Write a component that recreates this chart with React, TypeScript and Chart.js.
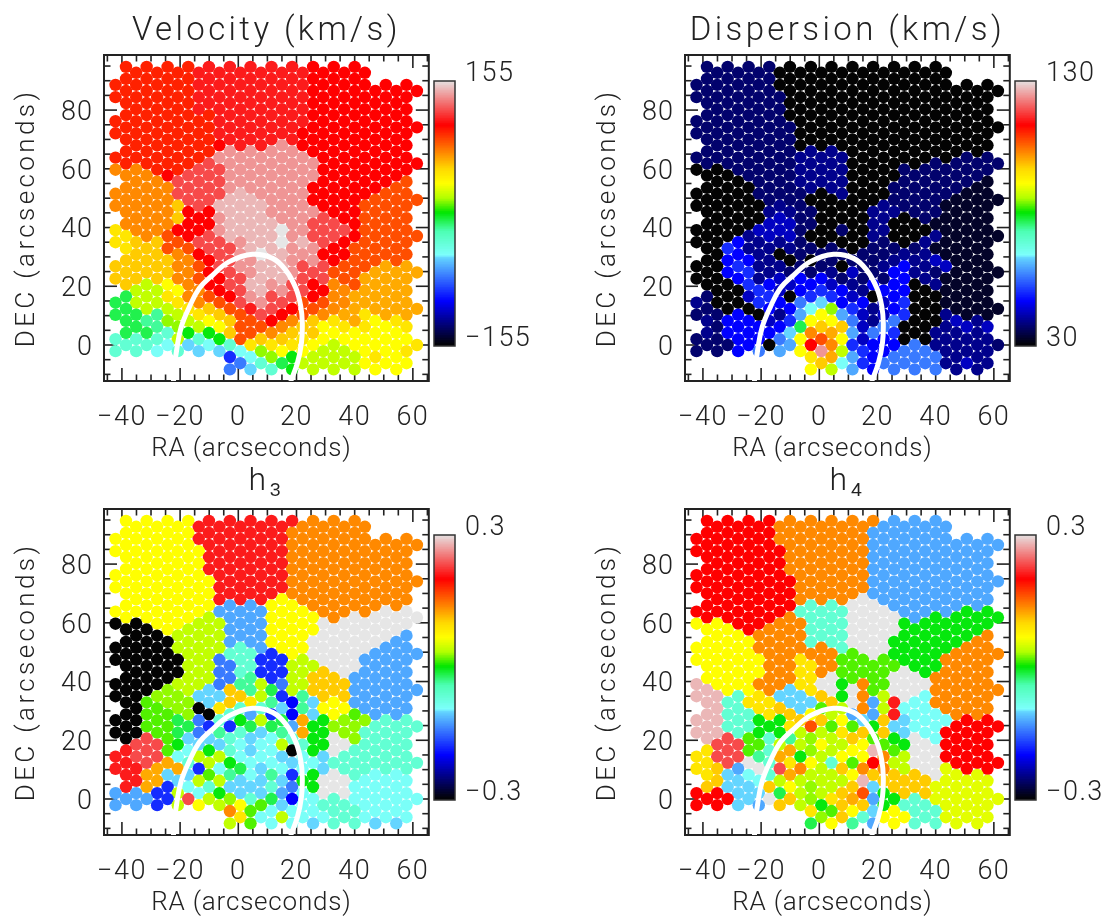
import React, { useEffect, useRef } from "react";
import { Chart, registerables } from "chart.js";

Chart.register(...registerables);

const FONT = "Roboto";
const raColumns = [-42.2, -38.6, -35.1, -31.5, -27.9, -24.3, -20.8, -17.2, -13.6, -10.1, -6.5, -2.9, 0.7, 4.2, 7.8, 11.4, 15.0, 18.5, 22.1, 25.7, 29.2, 32.8, 36.4, 40.0, 43.5, 47.1, 50.7, 54.3, 57.8, 61.4];
const decRows = [94.7, 92.7, 90.6, 88.6, 86.5, 84.4, 82.4, 80.3, 78.3, 76.2, 74.1, 72.1, 70.0, 68.0, 65.9, 63.8, 61.8, 59.7, 57.7, 55.6, 53.5, 51.5, 49.4, 47.4, 45.3, 43.2, 41.2, 39.1, 37.1, 35.0, 32.9, 30.9, 28.8, 26.8, 24.7, 22.6, 20.6, 18.5, 16.5, 14.4, 12.3, 10.3, 8.2, 6.2, 4.1, 2.0, 0.0, -2.1, -4.1, -6.2, -8.3];

const xMajor = [-40, -20, 0, 20, 40, 60];
const xMinor = [-45, -35, -30, -25, -15, -10, -5, 5, 10, 15, 25, 30, 35, 45, 50, 55, 65];
const yMajor = [0, 20, 40, 60, 80];
const yMinor = [-10, -5, 5, 10, 15, 25, 30, 35, 45, 50, 55, 65, 70, 75, 85, 90, 95];

const arcRA = [-22.3, -21.9, -21.1, -19.6, -16.8, -13.4, -8.8, -3.1, 4.9, 11.8, 16.3, 19.8, 21.5, 22.0, 21.7, 20.3, 18.0];
const arcDEC = [-12.4, -7.4, -1.1, 6.2, 13.0, 19.3, 23.8, 28.4, 30.9, 29.5, 25.5, 19.3, 13.0, 7.4, 0.6, -6.2, -12.4];

// fraction of the colour range for each symbol used in the binned maps
const levelOf: Record<string, number> = {
  k: 0, K: 0.025, n: 0.07, m: 0.09, b: 0.125, B: 0.166, c: 0.2, l: 0.26, s: 0.295, u: 0.33, i: 0.345, t: 0.39, q: 0.44, e: 0.47, g: 0.495,
  v: 0.525, w: 0.545, x: 0.565, X: 0.59, y: 0.61, Y: 0.645, a: 0.675, A: 0.7, o: 0.725, O: 0.77, p: 0.805, r: 0.83, d: 0.85, f: 0.885, z: 0.94, P: 0.965, G: 1,
};

const colorStops: [number, number, number, number][] = [
  [0, 3, 3, 3], [0.166, 0, 0, 255], [0.333, 102, 217, 255], [0.336, 127, 255, 255], [0.43, 77, 255, 179], [0.5, 0, 230, 0],
  [0.555, 179, 255, 0], [0.61, 255, 255, 0], [0.664, 255, 217, 0], [0.83, 255, 0, 0], [1, 230, 230, 230],
];

const velocityRows = [
  "ppppdddddrrr...", ".pppddddddrrr..", "ppppdddddrrr...", "ppppddddddrrrrr", "ppppdddddrrrrrr", "ppppddddddrrrrr", "ppppdddddrrrrr.",
  ".pppddddddrrrrr", "pppppddddrrrrr.", "pppppdddddrrrrr", "pppppddddrrrrrr", "pppppddddrrrrrr", "pppppddddrrrrr.", ".pppprddzrrrrrr",
  "pppppzzzzrrrrr.", "pppppzzzzzrrrrr", "ppppfzzzzzrrrrr", "ooppffzzzzrrrrr", "oorffzzzzzrrrr.", ".oofffzzzzrrrrO", "oooffzzzzrrrrO.",
  "ooofffPzzzrrrOO", "oooffPPzzrrrOOO", "oooafPPPzzrrOOO", "ooorrPPzzzrrOO.", ".ooarzPPzzfrOOO", "ooorrPPPzffrOO.", "YoorrzPPGzffOOO",
  "YoOrfPPPzffrOOO", "YaaOffzPGPfrOOO", "YaOOffPPzzrOOO.", ".aaorfzGPzrrOOO", "aaaorfzPzzrOOO.", "aaaoOfzPPffOOAA", "aaaorfzPzfOOAAA",
  "aaaoOrfPPffOAAA", "axyorfPzfroOAA.", ".xxyorfPzfroAAA", "exYoOrzffroAAA.", "exxYoOfzfOOoAAA", "exxYaOdfrOoAAAA", "eeqxYaOfrOoAYAA",
  "eqwxyaOroaYAyY.", ".eqwxyOOoayYYyY", "eetggaOoaayyyy.", "tttxtgOaaYyyyyy", "ttiuitYYYyxyyyY", "ttituuiwyyxxyyY", ".....ciwgxxxYy.",
  "......ltexxxyyy", ".....lutgxxxyy.",
];

const dispersionRows = [
  "nnnnkkkkkkkk...", ".nnnkkkkkkkkk..", "nnnnkkkkkkkk...", "nnnnkkkkkkkkkkk", "nnnnkkkkkkkkkkk", "nnnnnkkkkkkkkkk", "nnnnkkkkkkkkkk.",
  ".nnnnkkkkkkkkkk", "nnnnkkkkkkkkkk.", "nnnnnkkkkkkkkkk", "nnnnnkkkkkkkkkk", "nnnnnkkkkkkkkkk", "nnnnnkkkkkkkkk.", ".nnnnkkkkkkkkkk",
  "nnnnnmmkkkkkkk.", "nnnnnmmmkkkkknn", "nnnnnmmkkkknnnn", "kknnnmmmkknnnnn", "kknnnmmkkknnnn.", ".kknnmmmkknnnnK", "kkknnmmkknnnnK.",
  "kkknnnkmkknnnKK", "kkknnkkkknnnKKK", "kkkkmnkkkmnnKKK", "kkkmmnkkmmnnKK.", ".kkkbnkkkmknKKK", "kkkbbnkkmkkKKK.", "kkkbbnknkmkkKKK",
  "kkmbbkkkmkkmKKK", "kkBmmnkkknkmKKK", "kcmmmnnknnnKKK.", ".kBmknnnnnmmKKK", "kBBmkknnnmmbKK.", "kkcmmnnknmBmbKK", "kBcmnnmbnBmnKKK",
  "kkBmbBBnnnBmKKK", "kkcBbBbmBBkmKK.", ".kkcbBcBmBBkKKK", "nkbckccbkBkkKK.", "mkkcBluBBbckKKK", "nkkBBiwcmBkkKKK", "nnBkmsysbbckmKK",
  "mBBbcyylmlkkbm.", ".nBBBeaablkkmbb", "mBBBuoAslckmmm.", "nnBBlyOybBkkmmm", "nnBksrocBBlmmmn", "nnBlsyzxcBllmmm", ".....YAsBlllmm.",
  "......aiclllmbm", ".....yxsBlllmm.",
];

const h3Rows = [
  "yyyydddddooo...", ".yyydddddoooo..", "yyyyddddoooo...", "yyyydddddoooooo", "yyyyddddooooooo", "yyyyyddddoooooo", "yyyyddddoooooo.",
  ".yyyyddddoooooo", "yyyyddddoooooo.", "yyyyyddddoooooo", "yyyyydddooooooo", "yyyyyddddoooooo", "yyyyydddoooooo.", ".yyyydddyoooooo",
  "yyyyyssyyooooo.", "yyyyysssyyoooGG", "yyyyxssyyyoGGGG", "kkyyxxssyyGGGGG", "kkyxxssyyyGGGG.", ".kkxxxssyyGGGGs", "kkkxxssyyGGGGs.",
  "kkkxxxtsyyGGGss", "kkkxxttcyGGGsss", "kkkkxltccxGGsss", "kkkxxltcxxGGss.", ".kkkxltccxaGsss", "kkkxxlqcxaasss.", "kkkxxlqxlxaasss",
  "kkwxuaqexaassss", "kkwwuuaxcqaasss", "kvwwuaYqBuysss.", ".kvwkYttuqyysss", "kvvwktscBuyvss.", "kkveltgxeAgwwtt", "kvvecceesgwwttt",
  "kkvelqtuqAgwttt", "kfvuutuitgGwtt.", ".ffguuiixtgGttt", "dfvigtuikgGttt.", "dffixxiiuiutttt", "dfAtxgiiuittttt", "ddAAcieuiiutttt",
  "dAuuvqiqcgGtii.", ".dAuxxuuugGGiii", "dAcituutlgGiii.", "sscxiguusiGGiii", "sscfxwteBitiiii", "sscxyxyvuittiii", ".....oviiittii.",
  "......Yixiitiii", ".....xviiuttuu.",
];

const h4Rows = [
  "rrrrooooosss...", ".rrrooooossss..", "rrrroooossss...", "rrrrooooossssss", "rrrroooosssssss", "rrrrroooossssss", "rrrroooossssss.",
  ".rrrroooossssss", "rrrroooossssss.", "rrrrroooossssss", "rrrrrooosssssss", "rrrrroooossssss", "rrrrrooossssss.", ".rrrroooGssssss",
  "rrrrrttGGsssss.", "rrrrrtttGGsssgg", "rrrrottGGGsgggg", "yyrroottGGggggg", "yyroottGGGgggg.", ".yyooottGGggggo", "yyyoottGGggggo.",
  "yyyooootGGgggoo", "yyyoooovGgggooo", "yyyyoYovvvggooo", "yyyooYovvvggoo.", ".yyyoYovvvGgooo", "yyyooYGvvGGooo.", "PyyooYGgovGGooo",
  "PyyouYGGvGGoooo", "PPtYuuagoxGiooo", "PtYYuuaGsdiooo.", ".PtYauvxoxiiooo", "PttYayxssdiioo.", "PPtggaayuauiirr", "PttgYOvvguiirrr",
  "PPtggxxYaauirrr", "PfvtqwxavgGirr.", ".ffvxxyxyvgGrrr", "YfvtAwxyPvGGrr.", "YffqAgxyyoxGrrr", "YfGtYytvrxGGrrr", "YasGfoxaooxGXrr",
  "YuitAxxyaaaGXX.", ".auixxxxPaaaXXX", "auuaywxauaaXXX.", "rruuexxaOgaaXXX", "rruGawYAsgtXXXX", "rrusaxgaagttXXX", ".....YvyuyttXX.",
  "......watyytXXX", ".....eyqsyttXX.",
];

const panelTitles = ["Velocity (km/s)", "Dispersion (km/s)", "h\u2083", "h\u2084"];
const panelRows = [velocityRows, dispersionRows, h3Rows, h4Rows];
const panelRanges: [number, number][] = [[-155, 155], [30, 130], [-0.3, 0.3], [-0.3, 0.3]];
const panelTickText = [["\u2212155", "155"], ["30", "130"], ["\u22120.3", "0.3"], ["\u22120.3", "0.3"]];
const panelLeft = [0, 581, 0, 581];
const panelTop = [0, 0, 454, 454];
const titleSizes = [33, 33, 32, 32];

function rampColor(t: number): string {
  let i = 0;
  while (i < colorStops.length - 2 && t > colorStops[i + 1][0]) i++;
  const a = colorStops[i];
  const b = colorStops[i + 1];
  const f = Math.max(0, Math.min(1, (t - a[0]) / (b[0] - a[0] || 1)));
  const c = [1, 2, 3].map((k) => Math.round(a[k] + (b[k] - a[k]) * f));
  return `rgb(${c[0]},${c[1]},${c[2]})`;
}

function buildPoints(rows: string[], range: [number, number]) {
  const pts: { x: number; y: number; v: number }[] = [];
  rows.forEach((row, r) => {
    row.split("").forEach((ch, slot) => {
      if (ch === ".") return;
      const col = r % 2 === 0 ? 2 * slot + 1 : 2 * slot;
      pts.push({ x: raColumns[col], y: decRows[r], v: range[0] + levelOf[ch] * (range[1] - range[0]) });
    });
  });
  return pts;
}

const INK = "#222";

// Chart.js has no tracking option: set it around the scale's own text drawing
function track(s: any, titleGap: string, labelGap: string, titleShift = 0) {
  if (s.__tracked) return;
  s.__tracked = true;
  const drawTitle = s.drawTitle;
  const drawLabels = s.drawLabels;
  s.drawTitle = function (...a: any[]) {
    const c = this.ctx;
    c.save();
    c.letterSpacing = titleGap;
    c.translate(titleShift, 0);
    drawTitle.apply(this, a);
    c.restore();
  };
  s.drawLabels = function (...a: any[]) {
    const c = this.ctx;
    c.save();
    c.letterSpacing = labelGap;
    drawLabels.apply(this, a);
    c.restore();
  };
}

const frameTicks = {
  id: "frameTicks",
  beforeDraw(chart: any) {
    chart.ctx.letterSpacing = "3.4px";
  },
  beforeDatasetsDraw(chart: any) {
    const { ctx, chartArea: a, scales } = chart;
    const sx = scales.x;
    const sy = scales.y;
    ctx.save();
    ctx.strokeStyle = INK;
    ctx.lineWidth = 1.6;
    const seg = (x1: number, y1: number, x2: number, y2: number) => {
      ctx.beginPath();
      ctx.moveTo(x1, y1);
      ctx.lineTo(x2, y2);
      ctx.stroke();
    };
    const drawX = (vals: number[], len: number) => vals.forEach((v) => {
      const p = sx.getPixelForValue(v);
      seg(p, a.bottom, p, a.bottom - len);
      seg(p, a.top, p, a.top + len);
    });
    const drawY = (vals: number[], len: number) => vals.forEach((v) => {
      const p = sy.getPixelForValue(v);
      seg(a.left, p, a.left + len, p);
      seg(a.right, p, a.right - len, p);
    });
    drawX(xMajor, 13);
    drawX(xMinor, 6.5);
    drawY(yMajor, 13);
    drawY(yMinor, 6.5);
    ctx.lineWidth = 2;
    ctx.strokeRect(a.left, a.top, a.right - a.left, a.bottom - a.top);
    ctx.restore();
  },
};

const barFrame = {
  id: "barFrame",
  afterDatasetsDraw(chart: any) {
    const { ctx, chartArea: a } = chart;
    ctx.save();
    ctx.strokeStyle = "#333";
    ctx.lineWidth = 1.5;
    ctx.strokeRect(a.left, a.top, a.right - a.left, a.bottom - a.top);
    ctx.restore();
  },
};

const fmt = (v: number) => (v < 0 ? "\u2212" + Math.abs(v) : String(v));

function Panel({ index }: { index: number }) {
  const mapRef = useRef<HTMLCanvasElement>(null);
  const barRef = useRef<HTMLCanvasElement>(null);
  useEffect(() => {
    const range = panelRanges[index];
    const pts = buildPoints(panelRows[index], range);
    const size = titleSizes[index];
    const titleTop = index < 2 ? 15 : 12;
    const map = new Chart(mapRef.current as HTMLCanvasElement, {
      type: "scatter",
      data: {
        datasets: [
          {
            data: arcRA.map((x, i) => ({ x, y: arcDEC[i] })),
            showLine: true,
            borderColor: "#ffffff",
            borderWidth: 5,
            pointRadius: 0,
            tension: 0.4,
            fill: false,
          } as any,
          {
            data: pts,
            pointRadius: 6.2,
            pointHoverRadius: 6.2,
            borderWidth: 0,
            pointBorderWidth: 0,
            pointBackgroundColor: pts.map((p) => rampColor((p.v - range[0]) / (range[1] - range[0]))),
          } as any,
        ],
      },
      options: {
        responsive: false,
        animation: false,
        layout: { padding: { right: 5, top: 0, left: 0, bottom: 0 } },
        plugins: {
          legend: { display: false },
          tooltip: { enabled: false },
          title: {
            display: true,
            fullSize: false,
            text: panelTitles[index],
            color: INK,
            font: { family: FONT, size: size, weight: "300", lineHeight: 1 },
            padding: { top: titleTop, bottom: 55 - titleTop - size },
          },
        },
        scales: {
          x: {
            type: "linear",
            min: -46.16,
            max: 65.48,
            grid: { display: false },
            border: { display: false },
            afterBuildTicks: (s: any) => { s.ticks = xMajor.map((value) => ({ value })); },
            afterFit: (s: any) => { s.height = 84; s.paddingLeft = 0; s.paddingRight = 0; track(s, "0.8px", "1.5px", -15); },
            ticks: { color: INK, padding: 13, maxRotation: 0, autoSkip: false, font: { family: FONT, size: 27, weight: "300" }, callback: (v: any) => fmt(Number(v)) },
            title: { display: true, text: "RA (arcseconds)", color: INK, padding: { top: 2, bottom: 0 }, font: { family: FONT, size: 26, weight: "300" } },
          },
          y: {
            type: "linear",
            min: -12.26,
            max: 98.76,
            grid: { display: false },
            border: { display: false },
            afterBuildTicks: (s: any) => { s.ticks = yMajor.map((value) => ({ value })); },
            afterFit: (s: any) => { s.width = 104; s.paddingTop = 0; s.paddingBottom = 0; track(s, "3.4px", "1px"); },
            ticks: { color: INK, padding: 3, labelOffset: 3, autoSkip: false, font: { family: FONT, size: 27, weight: "300" }, callback: (v: any) => fmt(Number(v)) },
            title: { display: true, text: "DEC (arcseconds)", color: INK, padding: { top: 12, bottom: 0 }, font: { family: FONT, size: 26, weight: "300" } },
          },
        },
      },
      plugins: [frameTicks],
    } as any);

    const levels = Array.from({ length: 160 }, (_, i) => i / 160);
    const span = range[1] - range[0];
    const bar = new Chart(barRef.current as HTMLCanvasElement, {
      type: "bar",
      data: {
        labels: ["scale"],
        datasets: levels.map((t) => ({
          data: [[range[0] + t * span, range[0] + (t + 1.4 / 160 > 1 ? 1 : t + 1.4 / 160) * span]],
          backgroundColor: rampColor(t + 0.5 / 160),
          borderWidth: 0,
          grouped: false,
          categoryPercentage: 1,
          barPercentage: 1,
        })) as any,
      },
      options: {
        responsive: false,
        animation: false,
        layout: { padding: { left: 2, top: 26, bottom: 9, right: 0 } },
        plugins: { legend: { display: false }, tooltip: { enabled: false } },
        scales: {
          x: { display: false },
          y: {
            position: "right",
            min: range[0],
            max: range[1],
            grid: { display: false },
            border: { display: false },
            afterBuildTicks: (s: any) => { s.ticks = range.map((value) => ({ value })); },
            afterFit: (s: any) => { s.width = 93; s.paddingTop = 0; s.paddingBottom = 0; track(s, "0px", "1.5px"); },
            ticks: {
              align: "end",
              padding: 2,
              labelOffset: 7,
              autoSkip: false,
              color: INK,
              font: { family: FONT, size: 27, weight: "300" },
              callback: (v: any) => (Number(v) === range[0] ? panelTickText[index][0] : panelTickText[index][1]),
            },
          },
        },
      },
      plugins: [barFrame],
    } as any);
    return () => {
      map.destroy();
      bar.destroy();
    };
  }, [index]);
  const left = panelLeft[index];
  const top = panelTop[index];
  return (
    <>
      <canvas ref={mapRef} width={435} height={465} style={{ position: "absolute", left, top, display: "block" }} />
      <canvas ref={barRef} width={116} height={300} style={{ position: "absolute", left: left + 432, top: top + 55, display: "block" }} />
    </>
  );
}

export default function App() {
  return (
    <div style={{ position: "absolute", left: 0, top: 0, width: 1120, height: 918, overflow: "hidden", background: "#fff" }}>
      {panelTitles.map((_, i) => (
        <Panel key={i} index={i} />
      ))}
    </div>
  );
}
